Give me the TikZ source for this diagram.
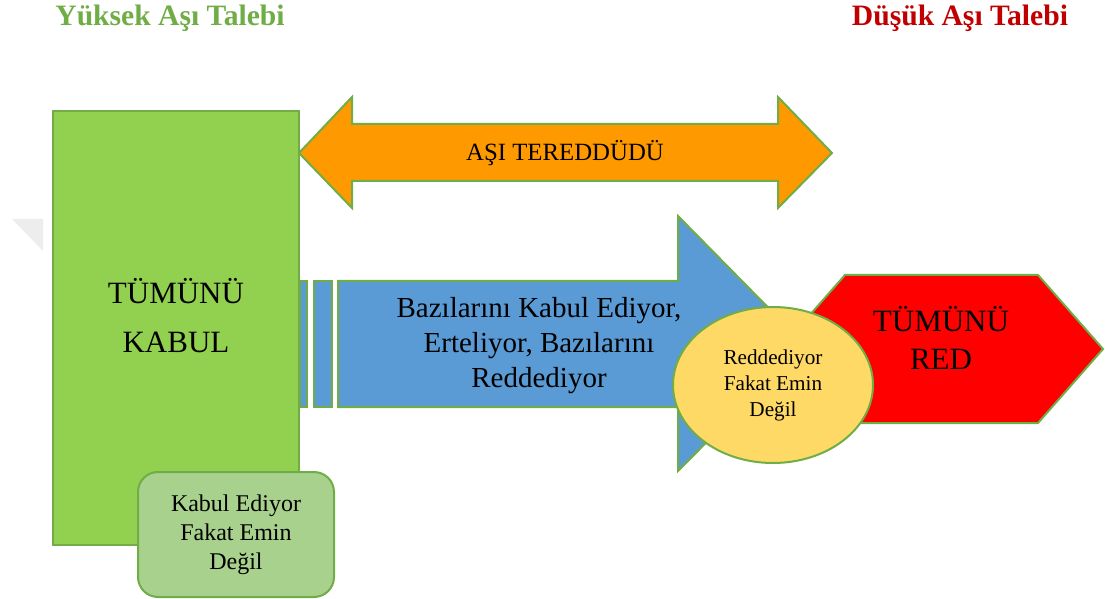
\documentclass[tikz,border=0pt]{standalone}
\usepackage{fontspec}
\setmainfont{Liberation Serif}
\usepackage{tikz}
\usetikzlibrary{shapes.geometric}

\definecolor{edgegreen}{HTML}{70AD47}
\definecolor{kabulgreen}{HTML}{92D050}
\definecolor{lightgreen}{HTML}{A9D18E}
\definecolor{asiorange}{HTML}{FF9900}
\definecolor{arrowblue}{HTML}{5B9BD5}
\definecolor{eminyellow}{HTML}{FFD966}
\definecolor{redred}{HTML}{FF0000}
\definecolor{titlered}{HTML}{C00000}

\begin{document}
\begin{tikzpicture}[x=0.5pt,y=-0.5pt]
    \tikzstyle{part}=[draw=edgegreen,line width=1pt]
    \tikzstyle{label}=[align=center,inner sep=0pt]
    \tikzstyle{title}=[font=\fontsize{14.8}{17}\selectfont\bfseries]
    \useasboundingbox (0,0) rectangle (1105,599);

    % titles
    \node[title,text=edgegreen](yuksektalep) at (170,18) {Yüksek Aşı Talebi};
    \node[title,text=titlered](dusuktalep) at (960,18) {Düşük Aşı Talebi};

    % faint mark on the left
    \fill[black!7] (12,219) -- (43,219) -- (43,251) -- cycle;

    % double arrow on top
    \draw[part,fill=asiorange] (299,153) -- (352,97) -- (352,124) -- (778,124) -- (778,97)
        -- (832,153) -- (778,208) -- (778,181) -- (352,181) -- (352,208) -- cycle;

    % blue arrow with stripes
    \draw[part,fill=arrowblue] (300,281) rectangle (307,407);
    \draw[part,fill=arrowblue] (314,281) rectangle (332,407);
    \draw[part,fill=arrowblue] (338,281) -- (678,281) -- (678,216) -- (804,344)
        -- (678,471) -- (678,407) -- (338,407) -- cycle;

    % left block
    \draw[part,fill=kabulgreen] (53,111) rectangle (299,545);

    % right hexagon
    \draw[part,fill=redred] (780,349) -- (845,275) -- (1038,275) -- (1103,349)
        -- (1038,423) -- (845,423) -- cycle;

    % texts
    \node[label,font=\fontsize{15.5}{24.5}\selectfont](tumunukabul) at (176,316) {TÜMÜNÜ\\KABUL};
    \node[label,font=\fontsize{12.4}{15}\selectfont](asitereddudu) at (565,153) {AŞI TEREDDÜDÜ};
    \node[label,font=\fontsize{14.5}{17.5}\selectfont](bazilarinikabul) at (539,346) {Bazılarını Kabul Ediyor,\\Erteliyor, Bazılarını\\Reddediyor};
    \node[label,font=\fontsize{15.5}{19}\selectfont](tumunured) at (941,338) {TÜMÜNÜ\\RED};

    % the two unsure groups
    \node[part,ellipse,fill=eminyellow,minimum width=100pt,minimum height=78pt,inner sep=0pt,
        align=center,font=\fontsize{10.6}{13}\selectfont](reddediyoremin) at (773,385) {Reddediyor\\Fakat Emin\\Değil};
    \node[part,rounded corners=10pt,fill=lightgreen,minimum width=98pt,minimum height=62.5pt,
        align=center,font=\fontsize{12}{14.5}\selectfont](kabulediyoremin) at (236,534.5) {Kabul Ediyor\\Fakat Emin\\Değil};
\end{tikzpicture}
\end{document}
